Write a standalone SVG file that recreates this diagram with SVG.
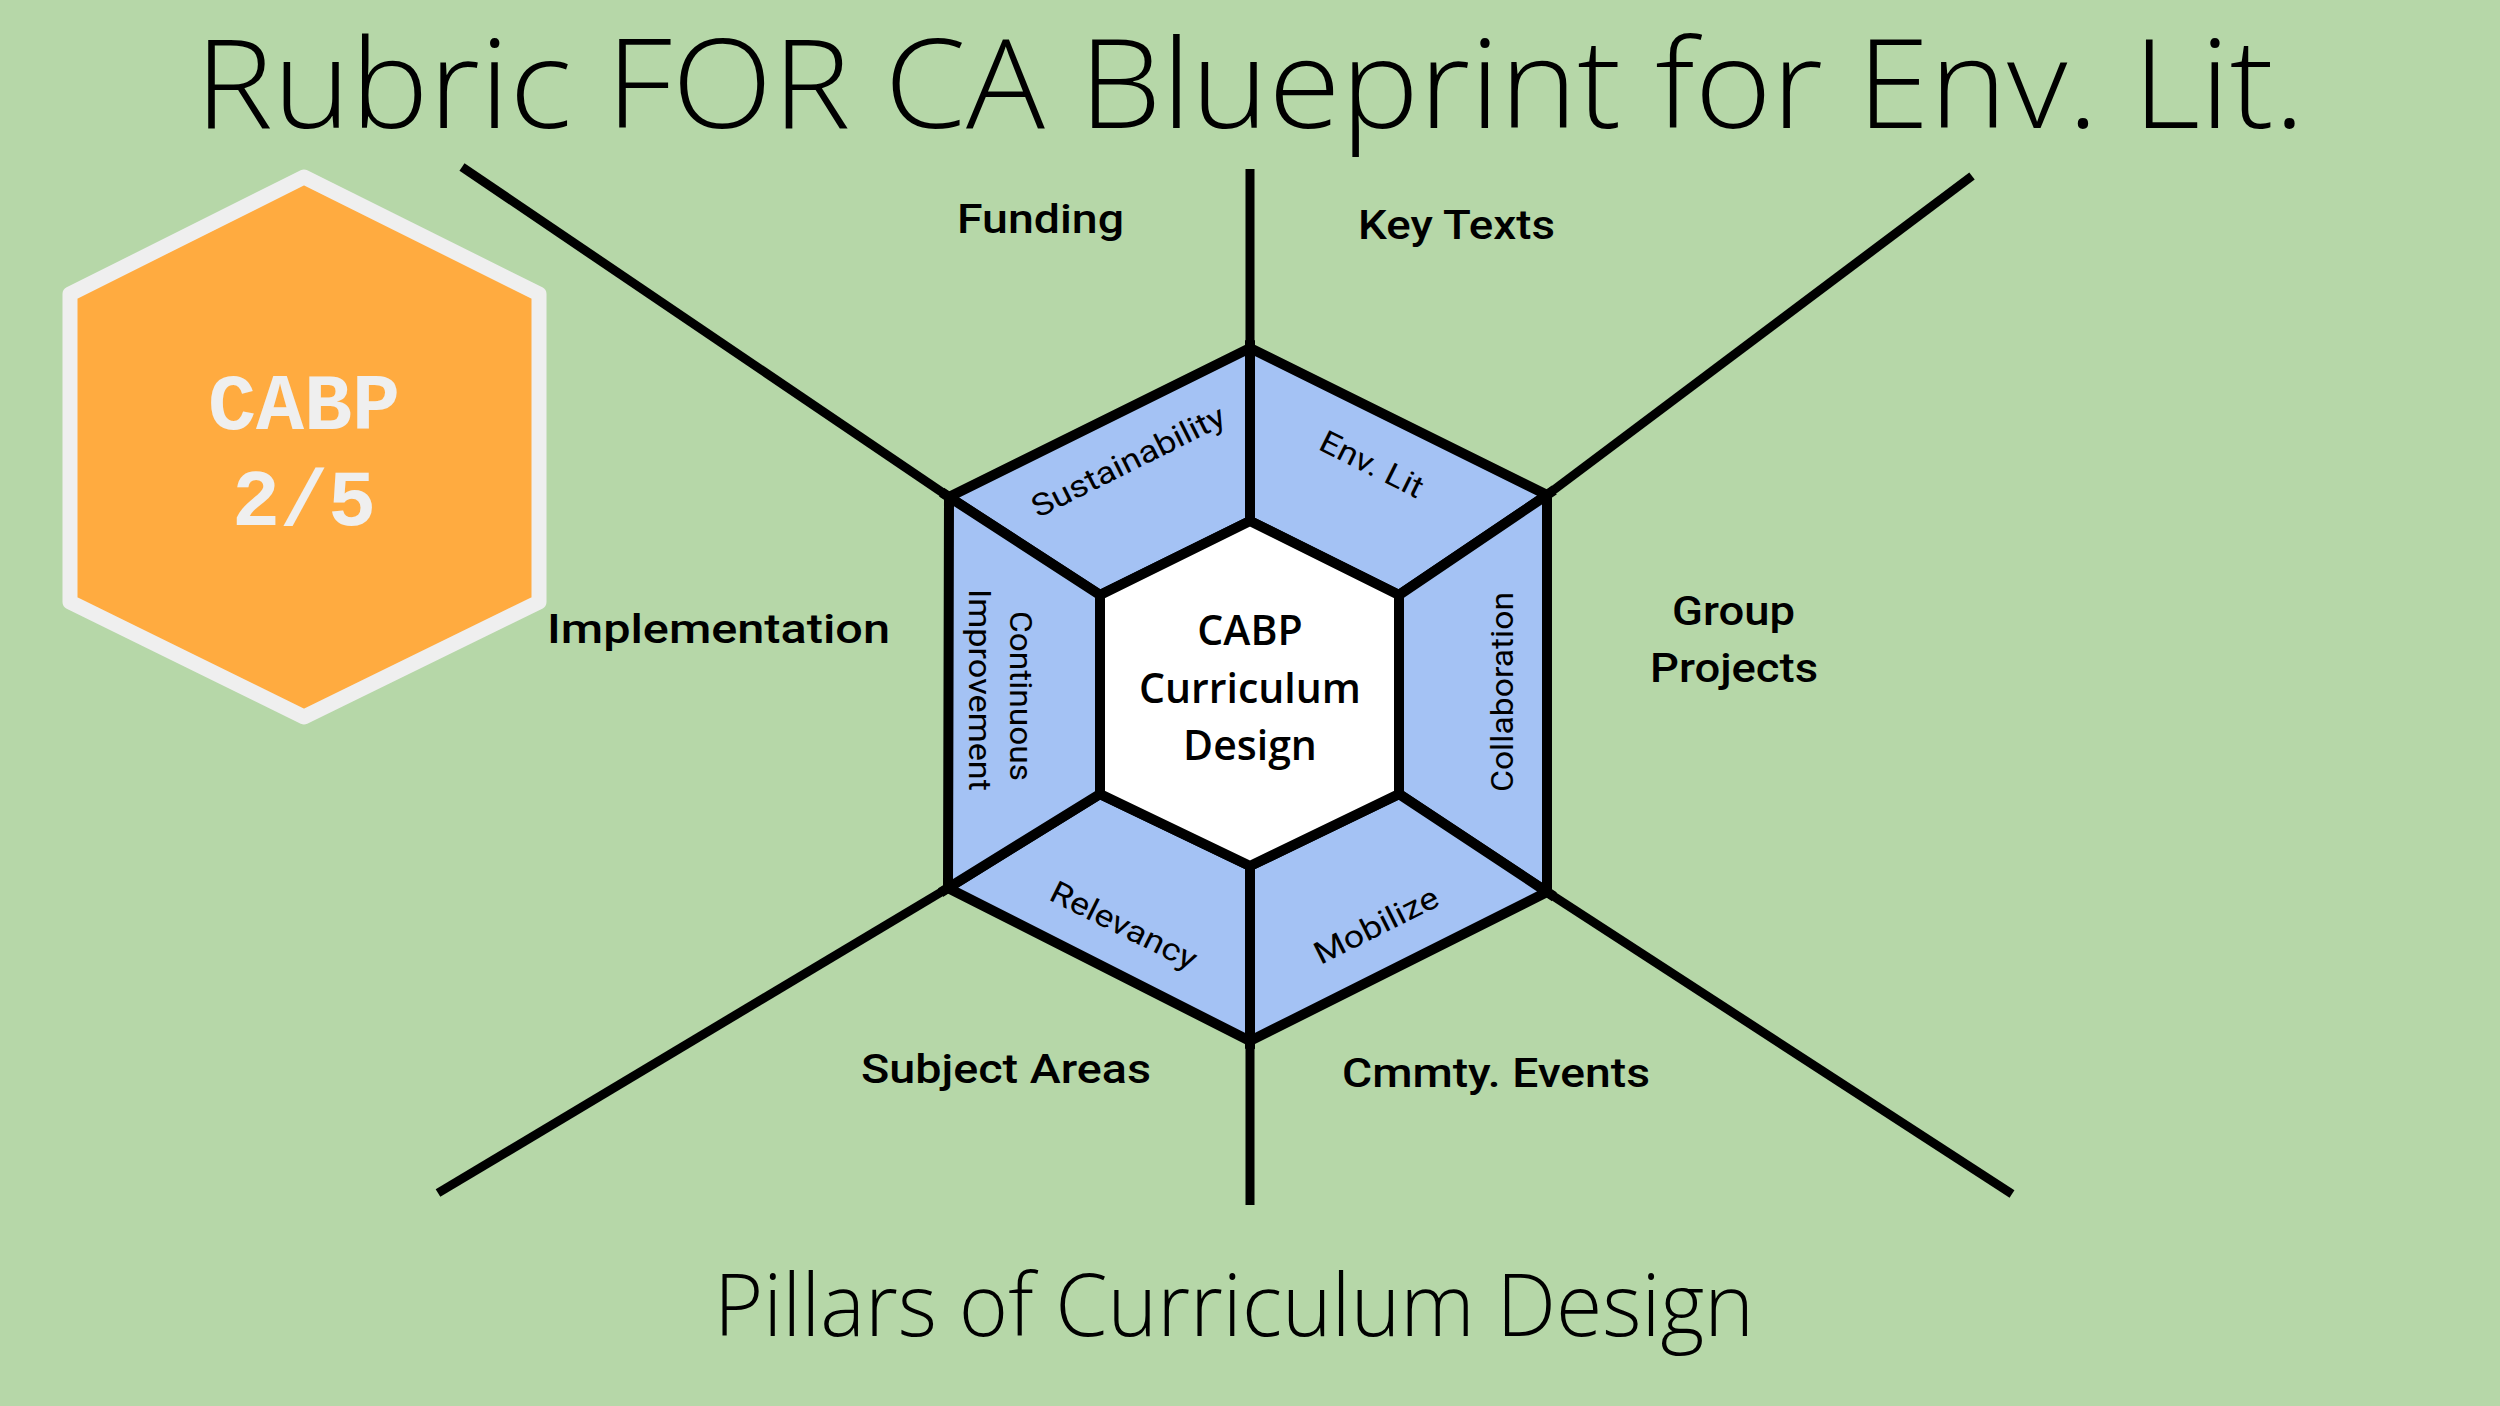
<svg xmlns="http://www.w3.org/2000/svg" width="2500" height="1406" viewBox="0 0 2500 1406">
<style>
.seg{fill:#a4c2f4;stroke:#000;stroke-width:10;stroke-linejoin:miter}
.hub{fill:#ffffff;stroke:#000;stroke-width:10}
.spoke{stroke:#000;stroke-width:9;fill:none}
.ttl{font-family:"Open Sans","Liberation Sans",sans-serif;font-weight:300;fill:#000}
.lbl{font-family:"Roboto","Liberation Sans",sans-serif;font-weight:500;fill:#000;font-size:40px}
.ring{font-family:"Roboto","Liberation Sans",sans-serif;fill:#000;font-size:31px;text-anchor:middle}
.hubt{font-family:"Open Sans","Liberation Sans",sans-serif;font-weight:600;fill:#000;font-size:41px;text-anchor:middle}
.badge{font-family:"Liberation Mono","Courier New",monospace;font-weight:bold;fill:#efefef;font-size:80px;text-anchor:middle}
</style>
<rect width="2500" height="1406" fill="#b6d7a8"/>

<g id="title">
<text class="ttl" x="195" y="128" font-size="124" textLength="2110" lengthAdjust="spacingAndGlyphs">Rubric FOR CA Blueprint for Env. Lit.</text>
</g>

<g id="badge">
<polygon points="304,177 539,294 539,602 304,717 70,602 70,294" fill="#ffab40" stroke="#efefef" stroke-width="15" stroke-linejoin="round"/>
<text class="badge" x="304" y="429">CABP</text>
<text class="badge" x="304" y="525">2/5</text>
</g>

<g id="connectors">
<line class="spoke" x1="1250" y1="169" x2="1250" y2="348"/>
<line class="spoke" x1="462" y1="167" x2="949" y2="497"/>
<line class="spoke" x1="1972" y1="176" x2="1547" y2="495"/>
<line class="spoke" x1="438" y1="1193" x2="948" y2="888"/>
<line class="spoke" x1="2012" y1="1194" x2="1547" y2="892"/>
<line class="spoke" x1="1250" y1="1041" x2="1250" y2="1205"/>
</g>

<g id="pillar-sustainability">
<polygon class="seg" points="949,497 1250,348 1250,521 1100,595"/>
<text class="ring" transform="translate(1128,461) rotate(-26.5)" y="11" textLength="212" lengthAdjust="spacingAndGlyphs">Sustainability</text>
</g>
<g id="pillar-envlit">
<polygon class="seg" points="1250,348 1547,495 1399,595 1250,521"/>
<text class="ring" transform="translate(1372,464) rotate(26.5)" y="11" textLength="112" lengthAdjust="spacingAndGlyphs">Env. Lit</text>
</g>
<g id="pillar-collaboration">
<polygon class="seg" points="1547,495 1547,892 1399,794 1399,595"/>
<text class="ring" transform="translate(1502,692) rotate(-90)" y="11" textLength="200" lengthAdjust="spacingAndGlyphs">Collaboration</text>
</g>
<g id="pillar-mobilize">
<polygon class="seg" points="1547,892 1250,1041 1250,866 1399,794"/>
<text class="ring" transform="translate(1376,925) rotate(-26.5)" y="11" textLength="135" lengthAdjust="spacingAndGlyphs">Mobilize</text>
</g>
<g id="pillar-relevancy">
<polygon class="seg" points="1250,1041 948,888 1100,794 1250,866"/>
<text class="ring" transform="translate(1124,925) rotate(26.5)" y="11" textLength="160" lengthAdjust="spacingAndGlyphs">Relevancy</text>
</g>
<g id="pillar-continuous-improvement">
<polygon class="seg" points="948,888 949,497 1100,595 1100,794"/>
<text class="ring" transform="translate(1021,696) rotate(90)" y="11" textLength="170" lengthAdjust="spacingAndGlyphs">Continuous</text>
<text class="ring" transform="translate(980,690) rotate(90)" y="11" textLength="202" lengthAdjust="spacingAndGlyphs">Improvement</text>
</g>

<g id="hub">
<polygon class="hub" points="1250,521 1399,595 1399,794 1250,866 1100,794 1100,595"/>
<text class="hubt" x="1250" y="645">CABP</text>
<text class="hubt" x="1250" y="703">Curriculum</text>
<text class="hubt" x="1250" y="760">Design</text>
</g>

<g id="label-funding"><text class="lbl" x="957" y="233" textLength="167" lengthAdjust="spacingAndGlyphs">Funding</text></g>
<g id="label-keytexts"><text class="lbl" x="1358" y="239" textLength="197" lengthAdjust="spacingAndGlyphs">Key Texts</text></g>
<g id="label-implementation"><text class="lbl" x="547" y="643" textLength="343" lengthAdjust="spacingAndGlyphs">Implementation</text></g>
<g id="label-groupprojects">
<text class="lbl" x="1672" y="625" textLength="123" lengthAdjust="spacingAndGlyphs">Group</text>
<text class="lbl" x="1650" y="682" textLength="168" lengthAdjust="spacingAndGlyphs">Projects</text>
</g>
<g id="label-subjectareas"><text class="lbl" x="861" y="1083" textLength="290" lengthAdjust="spacingAndGlyphs">Subject Areas</text></g>
<g id="label-cmmtyevents"><text class="lbl" x="1342" y="1087" textLength="308" lengthAdjust="spacingAndGlyphs">Cmmty. Events</text></g>

<g id="subtitle">
<text class="ttl" x="714" y="1336" font-size="86" textLength="1040" lengthAdjust="spacingAndGlyphs">Pillars of Curriculum Design</text>
</g>
</svg>
